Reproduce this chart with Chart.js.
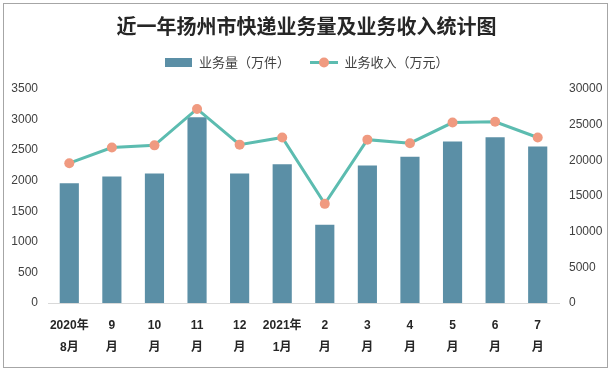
<!DOCTYPE html>
<html>
<head>
<meta charset="utf-8">
<script src="https://cdn.jsdelivr.net/npm/chart.js@4"></script>
<style>
  body { margin: 0; background: #fff; }
  #wrap { width: 613px; height: 372px; }
</style>
</head>
<body>
<div id="wrap"><canvas id="myChart" width="613" height="372"></canvas></div>
<script>
const months = [['2020年', '8月'], ['9', '月'], ['10', '月'], ['11', '月'], ['12', '月'], ['2021年', '1月'],
                ['2', '月'], ['3', '月'], ['4', '月'], ['5', '月'], ['6', '月'], ['7', '月']];
const volume = [1960, 2070, 2120, 3040, 2120, 2270, 1280, 2250, 2390, 2640, 2710, 2560];
const revenue = [19600, 21800, 22100, 27200, 22200, 23200, 13900, 22900, 22400, 25300, 25400, 23200];
const leftTicks = [0, 500, 1000, 1500, 2000, 2500, 3000, 3500];
const rightTicks = [0, 5000, 10000, 15000, 20000, 25000, 30000];

const barColor = '#5b8fa6';
const lineColor = '#5cbcb0';
const dotColor = '#f09a80';
const font = "'Liberation Sans', 'Noto Sans CJK SC', sans-serif";

// legend swatches
function barSwatch() {
    const c = document.createElement('canvas');
    c.width = 27; c.height = 9;
    const g = c.getContext('2d');
    g.fillStyle = barColor;
    g.fillRect(0, 0, 27, 9);
    return c;
}
function lineSwatch() {
    const c = document.createElement('canvas');
    c.width = 28; c.height = 11;
    const g = c.getContext('2d');
    g.strokeStyle = lineColor;
    g.lineWidth = 3;
    g.beginPath(); g.moveTo(0, 5.5); g.lineTo(28, 5.5); g.stroke();
    g.fillStyle = dotColor;
    g.beginPath(); g.arc(14, 5.5, 5, 0, Math.PI * 2); g.fill();
    return c;
}

const frame = {
    id: 'frame',
    afterDraw(chart) {
        const g = chart.ctx;
        g.save();
        g.strokeStyle = '#a6a6a6';
        g.lineWidth = 1;
        g.strokeRect(3.5, 3.5, 604, 364);
        g.restore();
    }
};

// extra space under the legend
const legendGap = {
    id: 'legendGap',
    beforeInit(chart) {
        const fit = chart.legend.fit;
        chart.legend.fit = function () {
            fit.bind(this)();
            this.height += 10;
        };
    }
};

const ctx = document.getElementById('myChart').getContext('2d');
new Chart(ctx, {
    type: 'bar',
    data: {
        labels: months,
        datasets: [
            {
                type: 'line', label: '业务收入（万元）', data: revenue, yAxisID: 'y1',
                borderColor: lineColor, borderWidth: 3, backgroundColor: dotColor,
                pointBackgroundColor: dotColor, pointBorderWidth: 0, pointRadius: 5,
                tension: 0, order: 0
            },
            {
                label: '业务量（万件）', data: volume, yAxisID: 'y', backgroundColor: barColor,
                barPercentage: 0.45, categoryPercentage: 1, order: 1
            }
        ]
    },
    options: {
        responsive: false,
        animation: false,
        layout: { padding: { top: 4, left: 0, right: 0, bottom: 0 } },
        plugins: {
            title: {
                display: true,
                text: '近一年扬州市快递业务量及业务收入统计图',
                color: '#262626',
                font: { family: "'Noto Sans CJK SC', sans-serif", size: 20, weight: 'bold' },
                padding: { top: 10, bottom: -2 }
            },
            legend: {
                position: 'top',
                reverse: true,
                labels: {
                    color: '#404040',
                    font: { family: "'Noto Sans CJK SC', sans-serif", size: 13 },
                    usePointStyle: true,
                    pointStyleWidth: 28,
                    boxHeight: 11,
                    padding: 20,
                    generateLabels(chart) {
                        return chart.data.datasets.map((ds, i) => ({
                            text: ds.label,
                            pointStyle: ds.type === 'line' ? lineSwatch() : barSwatch(),
                            fontColor: '#404040',
                            datasetIndex: i,
                            hidden: false
                        }));
                    }
                }
            },
            tooltip: { enabled: false }
        },
        scales: {
            x: {
                grid: { display: false, drawTicks: false },
                border: { color: '#d9d9d9' },
                ticks: {
                    color: '#262626', maxRotation: 0, autoSkip: false, padding: 12,
                    font: { family: font, size: 12, weight: 'bold', lineHeight: 1.8 }
                },
                afterFit(s) { s.height = 69; }
            },
            y: {
                position: 'left', min: 0, max: 3500,
                grid: { display: false, drawTicks: false },
                border: { display: false },
                afterBuildTicks(s) { s.ticks = leftTicks.map(v => ({ value: v })); },
                ticks: { color: '#404040', padding: 10, font: { family: font, size: 12 }, callback: v => String(v) },
                afterFit(s) { s.width = 48; }
            },
            y1: {
                position: 'right', min: 0, max: 30000,
                grid: { display: false, drawTicks: false },
                border: { display: false },
                afterBuildTicks(s) { s.ticks = rightTicks.map(v => ({ value: v })); },
                ticks: { color: '#404040', padding: 10, font: { family: font, size: 12 }, callback: v => String(v) },
                afterFit(s) { s.width = 54; }
            }
        }
    },
    plugins: [frame, legendGap]
});
</script>
</body>
</html>
